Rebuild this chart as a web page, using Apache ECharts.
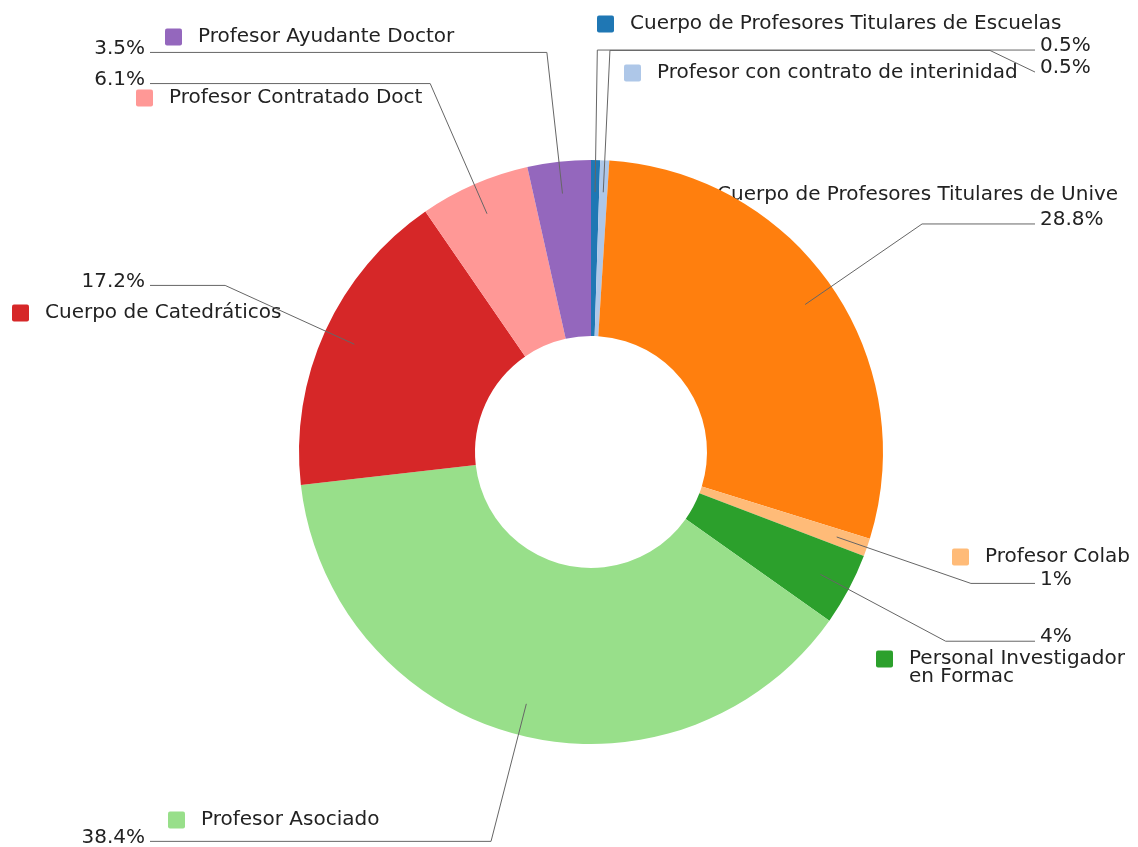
<!DOCTYPE html>
<html>
<head>
<meta charset="utf-8">
<script src="https://cdn.jsdelivr.net/npm/echarts@6/dist/echarts.min.js"></script>
<style>
html, body { margin: 0; padding: 0; background: #fff; }
#chart { width: 1138px; height: 847px; }
</style>
</head>
<body>
<div id="chart"></div>
<script>
// DATA
var categories = [
    'Cuerpo de Profesores Titulares de Escuelas Universitarias',
    'Profesor con contrato de interinidad',
    'Cuerpo de Profesores Titulares de Universidad',
    'Profesor Colaborador',
    'Personal Investigador en Formación',
    'Profesor Asociado',
    'Cuerpo de Catedráticos',
    'Profesor Contratado Doctor',
    'Profesor Ayudante Doctor'
]
// text as it shows in the picture (cut off there)
var shownNames = [
    'Cuerpo de Profesores Titulares de Escuelas',
    'Profesor con contrato de interinidad',
    'Cuerpo de Profesores Titulares de Unive',
    'Profesor Colab',
    'Personal Investigador\nen Formac',
    'Profesor Asociado',
    'Cuerpo de Catedráticos',
    'Profesor Contratado Doct',
    'Profesor Ayudante Doctor'
]
var percents = [0.5, 0.5, 28.8, 1, 4, 38.4, 17.2, 6.1, 3.5]
var percentLabels = ['0.5%', '0.5%', '28.8%', '1%', '4%', '38.4%', '17.2%', '6.1%', '3.5%']
var colors = ['#1f77b4', '#aec7e8', '#ff7f0e', '#ffbb78', '#2ca02c', '#98df8a', '#d62728', '#ff9896', '#9467bd']

// where the name tags sit (square left x, first line middle y)
var nameSpots = [[597, 24], [624, 73], [684, 195], [952, 557], [876, 659], [168, 820], [12, 313], [136, 98], [165, 37]]
// where the leader lines stop on each side
var lineEndRight = 1035
var lineEndLeft = 150

var FONT = 'DejaVu Sans'
var center = [591, 452]
var labelR = 260
var lineLen = 142

var rich = {
    n: { fontFamily: FONT, fontSize: 20, color: '#222', lineHeight: 18, padding: [0, 0, 0, 16] },
    ind: { width: 17, height: 17 }
}
colors.forEach(function (c, i) {
    rich['sq' + i] = { width: 17, height: 17, backgroundColor: c, borderRadius: 2 }
})

function nameText(i) {
    return shownNames[i].split('\n').map(function (line, k) {
        return (k === 0 ? '{sq' + i + '|}' : '{ind|}') + '{n|' + line + '}'
    }).join('\n')
}

var pieData = categories.map(function (name, i) {
    return { name: name, value: percents[i], itemStyle: { color: colors[i] } }
})
var ghostData = categories.map(function (name, i) {
    return { name: name, value: percents[i] }
})

var chart = echarts.init(document.getElementById('chart'), null, { renderer: 'canvas' })
chart.setOption({
    backgroundColor: '#fff',
    animation: false,
    series: [
        {
            // name tags, drawn under the ring
            type: 'pie',
            z: 1,
            silent: true,
            center: center,
            radius: [116, 292],
            startAngle: 90,
            avoidLabelOverlap: false,
            data: ghostData,
            itemStyle: { color: 'rgba(0,0,0,0)' },
            labelLine: { show: false },
            label: {
                show: true,
                position: 'outside',
                overflow: 'none',
                formatter: function (p) { return nameText(p.dataIndex) },
                rich: rich
            },
            labelLayout: function (p) {
                var s = nameSpots[p.dataIndex]
                return { x: s[0], y: s[1] - 9, align: 'left', verticalAlign: 'top' }
            }
        },
        {
            type: 'pie',
            z: 2,
            silent: true,
            center: center,
            radius: [116, 292],
            startAngle: 90,
            data: pieData,
            label: { show: false },
            labelLine: { show: false }
        },
        {
            // percent labels with their leader lines
            type: 'pie',
            z: 3,
            silent: true,
            center: center,
            radius: [0, labelR],
            startAngle: 90,
            data: ghostData,
            itemStyle: { color: 'rgba(0,0,0,0)' },
            avoidLabelOverlap: true,
            label: {
                show: true,
                position: 'outside',
                fontFamily: FONT,
                fontSize: 20,
                color: '#222',
                formatter: function (p) { return percentLabels[p.dataIndex] }
            },
            labelLine: {
                show: true,
                length: lineLen,
                length2: 40,
                lineStyle: { color: '#666', width: 1 }
            },
            labelLayout: function (p) {
                var pts = p.labelLinePoints
                if (!pts) return {}
                // keep the elbow on the slice's own direction, even when the text got pushed
                var k = (labelR + lineLen) / labelR
                var elbow = [center[0] + (pts[0][0] - center[0]) * k, center[1] + (pts[0][1] - center[1]) * k]
                var right = elbow[0] >= center[0]
                var endX = right ? lineEndRight : lineEndLeft
                var y = pts[2][1]
                var line
                if (Math.abs(y - elbow[1]) < 10) {
                    y = elbow[1]
                    line = [pts[0], elbow, [endX, y]]
                } else {
                    // pushed label: run level first, then step down to it
                    line = [pts[0], elbow, [endX - (right ? 45 : -45), elbow[1]], [endX, y]]
                }
                return {
                    x: right ? endX + 5 : endX - 5,
                    y: y - 4,
                    align: right ? 'left' : 'right',
                    verticalAlign: 'middle',
                    labelLinePoints: line
                }
            }
        }
    ]
})
</script>
</body>
</html>
